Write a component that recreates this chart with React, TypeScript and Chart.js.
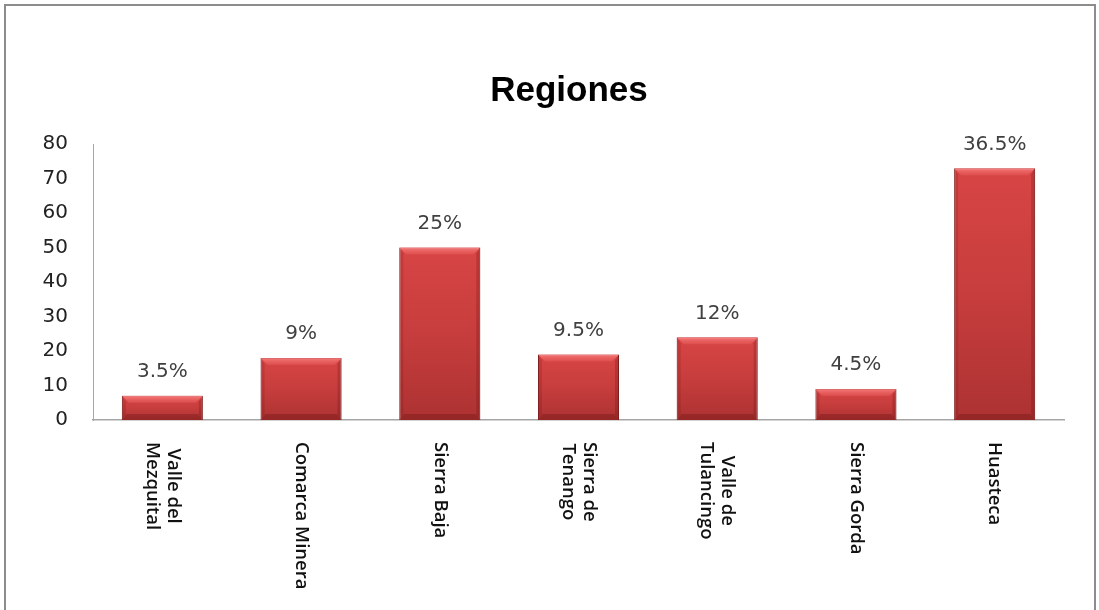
import React, { useEffect, useRef } from "react";
import { Chart, registerables } from "chart.js";

Chart.register(...registerables);

const TITLE = "Regiones";
const categories: string[][] = [
  ["Valle del", "Mezquital"],
  ["Comarca Minera"],
  ["Sierra Baja"],
  ["Sierra de", "Tenango"],
  ["Valle de", "Tulancingo"],
  ["Sierra Gorda"],
  ["Huasteca"],
];
const values: number[] = [7, 18, 50, 19, 24, 9, 73];
const pctLabels: string[] = ["3.5%", "9%", "25%", "9.5%", "12%", "4.5%", "36.5%"];
const yMin = 0;
const yMax = 80;
const yStep = 10;

const titlePlugin = {
  id: "titleText",
  afterDraw(chart: any) {
    const c = chart.ctx;
    c.save();
    c.font = "bold 35px 'Liberation Sans', Arial, sans-serif";
    c.fillStyle = "#000";
    c.textAlign = "center";
    c.textBaseline = "alphabetic";
    c.fillText(TITLE, 569, 101);
    c.restore();
  },
};

const bevelPlugin = {
  id: "bevel",
  afterDatasetsDraw(chart: any) {
    const c = chart.ctx;
    const meta = chart.getDatasetMeta(0);
    c.save();
    meta.data.forEach((bar: any) => {
      const w = bar.width;
      const left = bar.x - w / 2;
      const right = bar.x + w / 2;
      const top = bar.y;
      const bottom = bar.base;
      const b = 7;
      // top bevel
      c.beginPath();
      c.moveTo(left, top);
      c.lineTo(right, top);
      c.lineTo(right - b, top + b);
      c.lineTo(left + b, top + b);
      c.closePath();
      const g = c.createLinearGradient(0, top, 0, top + b);
      g.addColorStop(0, "rgba(255,140,140,0.75)");
      g.addColorStop(1, "rgba(240,100,100,0.35)");
      c.fillStyle = g;
      c.fill();
      // bottom bevel
      c.beginPath();
      c.moveTo(left, bottom);
      c.lineTo(right, bottom);
      c.lineTo(right - 5, bottom - 6);
      c.lineTo(left + 5, bottom - 6);
      c.closePath();
      c.fillStyle = "rgba(90,10,10,0.28)";
      c.fill();
      // side bevels
      c.beginPath();
      c.moveTo(right, top);
      c.lineTo(right, bottom);
      c.lineTo(right - 4, bottom - 5);
      c.lineTo(right - 4, top + 6);
      c.closePath();
      c.fillStyle = "rgba(90,10,10,0.22)";
      c.fill();
      c.beginPath();
      c.moveTo(left, top);
      c.lineTo(left, bottom);
      c.lineTo(left + 4, bottom - 5);
      c.lineTo(left + 4, top + 6);
      c.closePath();
      c.fillStyle = "rgba(90,10,10,0.15)";
      c.fill();
    });
    c.restore();
  },
};

const dataLabelPlugin = {
  id: "dataLabels",
  afterDatasetsDraw(chart: any) {
    const c = chart.ctx;
    const meta = chart.getDatasetMeta(0);
    c.save();
    c.font = "20px 'DejaVu Sans', sans-serif";
    c.fillStyle = "#404040";
    c.textAlign = "center";
    c.textBaseline = "alphabetic";
    meta.data.forEach((bar: any, i: number) => {
      c.fillText(pctLabels[i], bar.x, bar.y - 18.5);
    });
    c.restore();
  },
};

const xLabelPlugin = {
  id: "xLabels",
  afterDraw(chart: any) {
    const c = chart.ctx;
    const xs = chart.scales.x;
    c.save();
    c.font = "600 18.5px 'Open Sans', sans-serif";
    c.fillStyle = "#111";
    c.textBaseline = "middle";
    c.textAlign = "center";
    const lh = 21;
    categories.forEach((lines, i) => {
      const x = xs.getPixelForTick(i);
      const widths = lines.map((l) => c.measureText(l).width);
      const W = Math.max(...widths);
      c.save();
      c.translate(x, xs.top + 22);
      c.rotate(Math.PI / 2);
      lines.forEach((line, j) => {
        const ly = (j - (lines.length - 1) / 2) * lh;
        c.fillText(line, W / 2, ly);
      });
      c.restore();
    });
    c.restore();
  },
};

export default function App() {
  const ref = useRef<HTMLCanvasElement | null>(null);
  useEffect(() => {
    if (!ref.current) return;
    const chart = new Chart(ref.current, {
      type: "bar",
      data: {
        labels: categories.map((l) => l.join(" ")),
        datasets: [
          {
            data: values,
            backgroundColor: (ctx: any) => {
              const ch = ctx.chart;
              const ys = ch.scales && ch.scales.y;
              if (!ys || ctx.parsed == null) return "#c43c3c";
              const top = ys.getPixelForValue(ctx.parsed.y);
              const bottom = ys.getPixelForValue(0);
              if (!isFinite(top) || !isFinite(bottom) || bottom - top < 1) return "#c43c3c";
              const g = ch.ctx.createLinearGradient(0, top, 0, bottom);
              g.addColorStop(0, "#d84545");
              g.addColorStop(0.5, "#c73d3d");
              g.addColorStop(1, "#ad3232");
              return g;
            },
            borderColor: "#8a2424",
            borderWidth: 1,
            categoryPercentage: 1,
            barPercentage: 0.584,
          },
        ],
      },
      options: {
        responsive: false,
        animation: false,
        layout: { padding: { top: 144, right: 35, bottom: 0, left: 0 } },
        plugins: {
          legend: { display: false },
          title: { display: false },
          tooltip: { enabled: false },
        },
        scales: {
          x: {
            grid: { display: false, drawTicks: false },
            border: { display: true, color: "#a6a6a6", width: 1.5 },
            ticks: { display: false },
            afterFit: (s: any) => {
              s.height = 190;
            },
          },
          y: {
            min: yMin,
            max: yMax,
            grid: { display: false, drawTicks: false },
            border: { display: true, color: "#a6a6a6", width: 1 },
            ticks: {
              stepSize: yStep,
              padding: 25,
              color: "#222",
              font: { family: "'DejaVu Sans', sans-serif", size: 20 },
            },
            afterFit: (s: any) => {
              s.width = 93;
            },
          },
        },
      },
      plugins: [titlePlugin, bevelPlugin, dataLabelPlugin, xLabelPlugin],
    });
    return () => chart.destroy();
  }, []);

  return (
    <div
      style={{
        position: "fixed",
        left: 0,
        top: 0,
        width: 1099,
        height: 610,
        background: "#fff",
        overflow: "hidden",
      }}
    >
      <canvas
        ref={ref}
        width={1099}
        height={610}
        style={{ position: "absolute", left: 0, top: 0, width: 1099, height: 610 }}
      />
      <div
        style={{
          position: "absolute",
          left: 4,
          top: 4,
          width: 1088,
          height: 700,
          border: "2px solid #8c8c8c",
          pointerEvents: "none",
        }}
      />
    </div>
  );
}
